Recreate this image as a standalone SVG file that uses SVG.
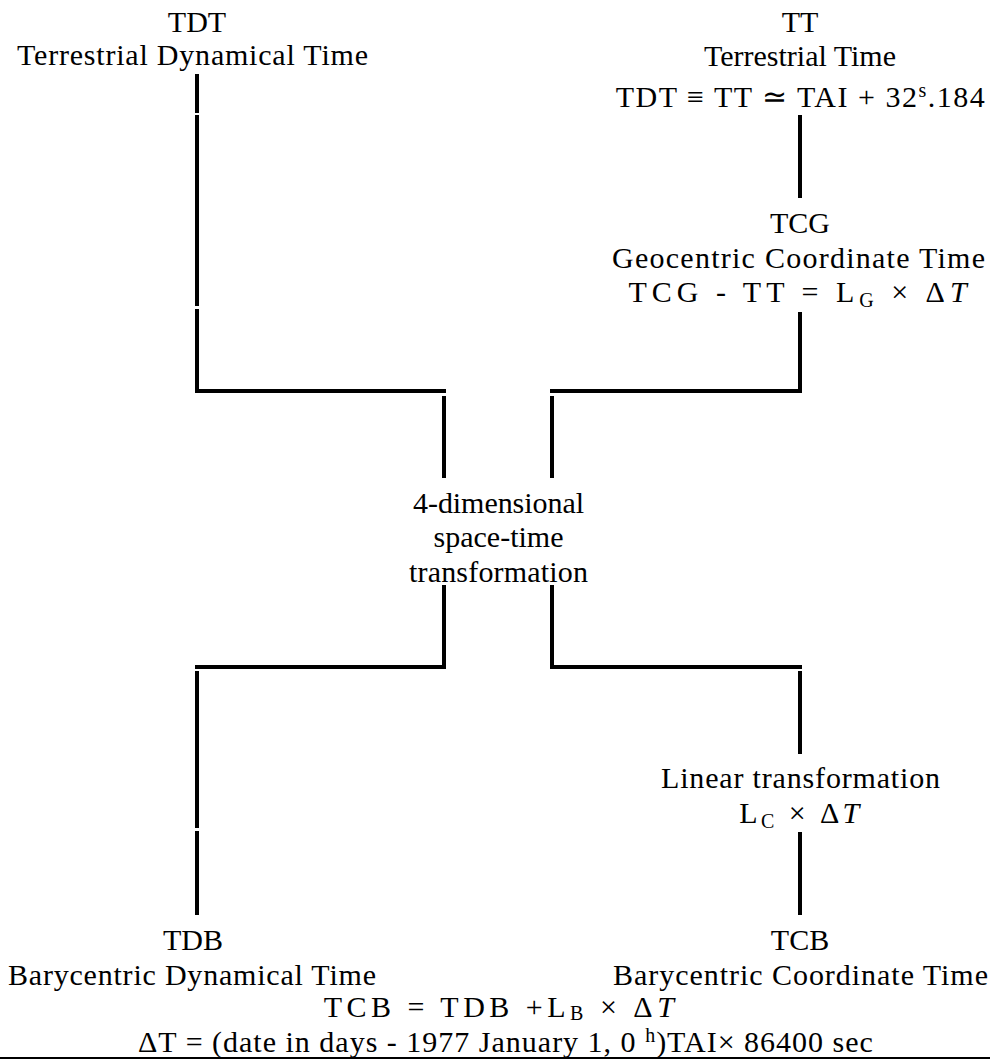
<svg xmlns="http://www.w3.org/2000/svg" width="990" height="1061" viewBox="0 0 990 1061">
<style>
.t{font-family:"Liberation Serif","Times New Roman",serif;font-size:30px;text-anchor:middle;fill:#000}
.sub{font-size:20px}
.c line{stroke:#000;stroke-width:4;stroke-linecap:butt}
</style>
<rect width="990" height="1061" fill="#fff"/>
<g id="connectors" class="c">
<line x1="197" y1="74" x2="197" y2="113"/>
<line x1="197" y1="115" x2="197" y2="306"/>
<line x1="197" y1="309" x2="197" y2="393"/>
<line x1="195" y1="391" x2="446" y2="391"/>
<line x1="444" y1="396" x2="444" y2="478"/>
<line x1="800" y1="115" x2="800" y2="198"/>
<line x1="800" y1="312" x2="800" y2="393"/>
<line x1="550" y1="391" x2="802" y2="391"/>
<line x1="552" y1="396" x2="552" y2="478"/>
<line x1="444" y1="585" x2="444" y2="669"/>
<line x1="195" y1="667" x2="446" y2="667"/>
<line x1="552" y1="585" x2="552" y2="669"/>
<line x1="550" y1="667" x2="802" y2="667"/>
<line x1="197" y1="671" x2="197" y2="828"/>
<line x1="197" y1="831" x2="197" y2="915"/>
<line x1="800" y1="671" x2="800" y2="754"/>
<line x1="800" y1="832" x2="800" y2="915"/>
<line x1="0" y1="1058" x2="990" y2="1058" style="stroke-width:2"/>
</g>
<g id="tdt">
<text class="t" x="197" y="32">TDT</text>
<text class="t" x="192.5" y="65" textLength="351">Terrestrial Dynamical Time</text>
</g>
<g id="tt">
<text class="t" x="800" y="32">TT</text>
<text class="t" x="800" y="66">Terrestrial Time</text>
<text class="t" x="801" y="107" letter-spacing="1.5">TDT ≡ TT ≃ TAI + 32<tspan class="sub" dy="-10">s</tspan><tspan dy="10">.184</tspan></text>
</g>
<g id="tcg">
<text class="t" x="800" y="233">TCG</text>
<text class="t" x="798.5" y="268" textLength="373">Geocentric Coordinate Time</text>
<text class="t" x="800" y="302" letter-spacing="5">TCG - TT = L<tspan class="sub" dy="5">G</tspan><tspan dy="-5"> × Δ</tspan><tspan font-style="italic">T</tspan></text>
</g>
<g id="transform4d">
<text class="t" x="498.5" y="513" textLength="171">4-dimensional</text>
<text class="t" x="498.5" y="547">space-time</text>
<text class="t" x="498.5" y="582" textLength="179">transformation</text>
</g>
<g id="linear">
<text class="t" x="800.5" y="788" textLength="279">Linear transformation</text>
<text class="t" x="801" y="823" letter-spacing="3.4">L<tspan class="sub" dy="5">C</tspan><tspan dy="-5"> × Δ</tspan><tspan font-style="italic">T</tspan></text>
</g>
<g id="tdb">
<text class="t" x="193" y="950">TDB</text>
<text class="t" x="192" y="985" textLength="368">Barycentric Dynamical Time</text>
</g>
<g id="tcb">
<text class="t" x="800" y="950">TCB</text>
<text class="t" x="800.5" y="985" textLength="375">Barycentric Coordinate Time</text>
</g>
<g id="formulas">
<text class="t" x="501" y="1017" letter-spacing="4.5">TCB = TDB +L<tspan class="sub" dy="3">B</tspan><tspan dy="-3"> × Δ</tspan><tspan font-style="italic">T</tspan></text>
<text class="t" x="506" y="1052" letter-spacing="1">ΔT = (date in days - 1977 January 1, 0 <tspan class="sub" dy="-10">h</tspan><tspan dy="10">)TAI× 86400 sec</tspan></text>
</g>
</svg>
